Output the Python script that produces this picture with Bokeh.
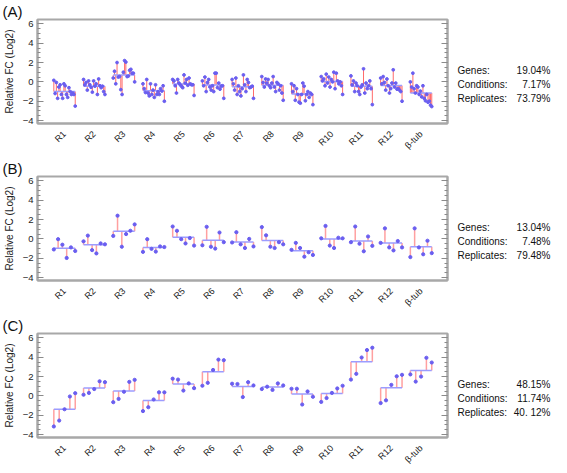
import math
from bokeh.plotting import figure
from bokeh.layouts import column, row
from bokeh.models import Range1d, FixedTicker, SingleIntervalTicker, LinearAxis
from bokeh.core.properties import value
from bokeh.embed import file_html
from bokeh.resources import INLINE

genes = ["R1", "R2", "R3", "R4", "R5", "R6", "R7", "R8", "R9", "R10", "R11", "R12", "β-tub"]

# Panel A: 18 points per gene
A_R1 = [0.16, -1.2, -0.06, -1.7, -0.53, -0.3, -1.3, -1.7, -0.2, -0.4, -1.3, -1.6, -0.6, -1.0, -1.3, -1.15, -1.3, -2.5]
A_R2 = [0.25, -0.3, -0.06, -0.85, 0.1, -0.3, -0.56, -1.06, 0.1, -0.44, -0.2, -1.3, 0.3, -0.4, -0.6, -0.44, -1.0, -1.3]
A_R3 = [0.4, 1.1, -0.2, 2.0, 0.5, 0.55, -0.8, -1.3, 1.0, 2.2, 2.05, 0.55, 0.6, 1.2, 1.3, 0.9, 0.9, 0.0]
A_R4 = [-0.2, -0.7, -1.1, 0.25, -1.15, -1.45, -0.2, -1.3, -0.85, -1.6, -0.3, -1.3, -1.0, -1.3, -0.7, -0.95, -0.4, -2.0]
A_R5 = [0.25, 0.1, -0.4, -1.15, 0.25, -0.12, -0.3, -0.45, -0.6, 0.72, -0.12, 0.25, -0.35, 0.4, -0.2, -0.3, -0.3, -1.4]
A_R6 = [0.1, -0.4, 0.5, -1.0, -0.06, 0.25, -0.53, -0.85, -0.4, -1.0, 0.9, 0.9, -0.6, -0.12, -0.75, -0.44, -0.4, -1.7]
A_R7 = [0.25, -0.2, -0.85, 0.4, -1.3, -0.4, -1.0, -1.45, -0.7, 0.72, -0.3, -1.0, 0.25, -0.06, -0.6, -0.53, -0.44, -1.7]
A_R8 = [0.55, -0.06, -0.53, 0.3, -0.12, 0.25, -0.4, -0.6, -0.12, 0.55, -0.53, -1.0, -0.06, -0.2, -0.85, -0.4, -1.15, -1.9]
A_R9 = [-0.2, -1.0, -0.4, -1.9, -0.7, -1.3, -2.1, -2.2, -1.3, -0.12, -0.44, -1.95, -1.3, -1.0, -1.6, -1.15, -1.3, -2.35]
A_R10 = [0.55, 0.1, 0.3, -0.4, 0.8, -0.12, 0.5, -0.53, 0.25, 0.0, 1.0, -0.7, 0.9, 0.1, -0.2, 0.0, -0.4, -1.3]
A_R11 = [0.62, -0.3, 0.1, -1.0, -0.12, -0.4, -1.0, -1.3, -0.53, -0.3, 1.35, -1.15, -0.12, -0.7, -0.4, 0.1, -0.7, -2.35]
A_R12 = [0.4, -0.2, 0.55, -0.06, -0.85, 0.3, -0.4, -1.15, -0.7, -0.12, 1.25, -0.53, -0.12, -0.75, -0.7, -0.85, -1.0, -2.0]
A_BTUB = [0.0, -0.53, 0.9, -0.7, -1.15, -0.4, -0.53, -1.3, -0.95, -1.55, -0.4, -1.7, -1.95, -1.3, -2.1, -2.0, -2.4, -2.55]

# Panel B: 6 points per gene
B_R1 = [-1.09, -0.03, -0.6, -1.97, -0.88, -1.25]
B_R2 = [-0.25, 0.34, -1.16, -1.5, -0.47, -0.56]
B_R3 = [0.31, 2.4, -0.81, 0.5, 0.84, 1.5]
B_R4 = [-1.34, -0.03, -1.03, -1.31, -0.78, -0.84]
B_R5 = [1.28, 0.84, -0.03, -0.47, 0.09, -0.69]
B_R6 = [-0.66, 1.25, -0.81, -1.0, 0.66, -0.34]
B_R7 = [-0.37, 0.69, -0.56, -0.94, 0.0, -0.78]
B_R8 = [1.22, 0.37, -0.81, -0.94, -0.34, -0.56]
B_R9 = [-1.13, -0.41, -0.94, -1.84, -1.38, -1.66]
B_R10 = [0.06, 1.34, -0.69, -0.94, 0.12, 0.06]
B_R11 = [-0.34, 1.28, -0.5, -1.28, 0.25, -0.72]
B_R12 = [-0.41, 1.09, -0.88, -1.19, -0.22, -0.88]
B_BTUB = [-1.88, 1.09, -0.88, -1.59, -0.19, -1.47]

# Panel C: 5 points per gene
C_R1 = [-3.16, -2.55, -1.38, -0.06, 0.28]
C_R2 = [0.12, 0.31, 0.71, 1.51, 1.42]
C_R3 = [-0.65, -0.31, 0.43, 1.45, 1.66]
C_R4 = [-1.57, -1.17, -0.37, 0.37, 0.37]
C_R5 = [1.78, 1.69, 0.55, 1.29, 0.8]
C_R6 = [1.05, 1.35, 2.68, 3.75, 3.69]
C_R7 = [1.26, 1.23, -0.12, 1.42, 1.08]
C_R8 = [0.71, 0.95, 0.62, 1.29, 1.08]
C_R9 = [0.74, 0.74, -0.89, 0.46, -0.09]
C_R10 = [-0.62, -0.22, 0.31, 0.77, 1.05]
C_R11 = [1.69, 2.28, 3.97, 4.74, 4.98]
C_R12 = [-0.74, -0.46, 1.14, 2.03, 2.18]
C_BTUB = [2.22, 1.48, 2.0, 3.94, 3.45]

stat_names = ["Genes:", "Conditions:", "Replicates:"]
A_stats = ["19.04%", "7.17%", "73.79%"]
B_stats = ["13.04%", "7.48%", "79.48%"]
C_stats = ["48.15%", "11.74%", "40. 12%"]

panel_A = [A_R1, A_R2, A_R3, A_R4, A_R5, A_R6, A_R7, A_R8, A_R9, A_R10, A_R11, A_R12, A_BTUB]
panel_B = [B_R1, B_R2, B_R3, B_R4, B_R5, B_R6, B_R7, B_R8, B_R9, B_R10, B_R11, B_R12, B_BTUB]
panel_C = [C_R1, C_R2, C_R3, C_R4, C_R5, C_R6, C_R7, C_R8, C_R9, C_R10, C_R11, C_R12, C_BTUB]

FONT = "Liberation Sans"
FIG_H = 152
TOP = 17
FRAME_W = 410
FRAME_H = 104
STATS_W = 101
HALF = 0.36
GRAY = "#a8a8a8"
TICK = "#8a8a8a"


def make_panel(letter, groups, stem_color, stem_width, pt_size):
    p = figure(frame_width=FRAME_W, frame_height=FRAME_H, output_backend="svg",
               toolbar_location=None, tools="",
               x_range=Range1d(-0.91, 12.89), y_range=Range1d(-4.3, 6.45),
               min_border_left=36, min_border_right=4, min_border_top=TOP,
               min_border_bottom=FIG_H - TOP - FRAME_H)
    p.xgrid.visible = False
    p.ygrid.visible = False
    p.outline_line_color = GRAY
    p.outline_line_width = 2
    p.border_fill_color = "white"

    p.title.text = letter
    p.title.text_font = FONT
    p.title.text_font_size = "15px"
    p.title.text_font_style = "normal"
    p.title.text_color = "#111111"
    p.title.align = "left"
    p.title.offset = -35
    p.title.standoff = 0

    xs, ys, mx0, mx1, my = [], [], [], [], []
    sx, sy0 = [], []
    for i, vals in enumerate(groups):
        n = len(vals)
        m = sum(vals) / n
        mx0.append(i - HALF)
        mx1.append(i + HALF)
        my.append(m)
        for j, v in enumerate(vals):
            x = i - HALF + 2 * HALF * j / (n - 1)
            xs.append(x)
            ys.append(v)
            sx.append(x)
            sy0.append(m)

    p.segment(x0=sx, y0=sy0, x1=sx, y1=ys, line_color=stem_color, line_width=stem_width)
    p.segment(x0=mx0, y0=my, x1=mx1, y1=my, line_color="#9c9cff", line_width=1.5)
    p.scatter(xs, ys, size=pt_size, marker="circle", fill_color="#6a5ef0", line_color="#6a5ef0")

    xa = p.xaxis[0]
    xa.ticker = FixedTicker(ticks=list(range(len(genes))))
    xa.major_label_overrides = {i: g for i, g in enumerate(genes)}
    xa.major_label_orientation = math.pi / 4
    xa.major_tick_line_color = None
    xa.minor_tick_line_color = None
    xa.axis_line_color = GRAY
    xa.axis_line_width = 2
    xa.major_label_text_font = FONT
    xa.major_label_text_font_size = "9px"
    xa.major_label_text_color = "#222222"
    xa.major_label_standoff = 3

    ya = p.yaxis[0]
    ya.ticker = SingleIntervalTicker(interval=2, num_minor_ticks=4)
    ya.major_tick_in = 6
    ya.major_tick_out = 0
    ya.minor_tick_in = 3
    ya.minor_tick_out = 0
    ya.major_tick_line_color = TICK
    ya.minor_tick_line_color = TICK
    ya.axis_line_color = GRAY
    ya.axis_line_width = 2
    ya.axis_label = "Relative FC (Log2)"
    ya.axis_label_text_font = FONT
    ya.axis_label_text_font_size = "10px"
    ya.axis_label_text_font_style = "normal"
    ya.axis_label_text_color = "#222222"
    ya.axis_label_standoff = 5
    ya.major_label_text_font = FONT
    ya.major_label_text_font_size = "9.5px"
    ya.major_label_text_color = "#222222"
    ya.major_label_standoff = 4

    ra = LinearAxis(ticker=SingleIntervalTicker(interval=2, num_minor_ticks=4))
    ra.major_tick_in = 6
    ra.major_tick_out = 0
    ra.minor_tick_in = 3
    ra.minor_tick_out = 0
    ra.major_tick_line_color = TICK
    ra.minor_tick_line_color = TICK
    ra.axis_line_color = GRAY
    ra.axis_line_width = 2
    ra.major_label_text_color = None
    ra.major_label_text_font_size = "1px"
    ra.major_label_standoff = 0
    p.add_layout(ra, "right")
    return p


def make_stats(stats):
    s = figure(frame_width=STATS_W, frame_height=FIG_H, output_backend="svg",
               toolbar_location=None, tools="", x_axis_location=None, y_axis_location=None,
               x_range=Range1d(0, STATS_W), y_range=Range1d(0, FIG_H), min_border=0)
    s.xgrid.visible = False
    s.ygrid.visible = False
    s.outline_line_color = None
    rows_y = [FIG_H - TOP - 34 - 14 * k for k in range(len(stat_names))]
    s.text(x=[6] * len(stat_names), y=rows_y, text=stat_names,
           text_font=value(FONT), text_font_size="10px", text_baseline="middle",
           text_align="left", text_color="#111111")
    s.text(x=[STATS_W - 2] * len(stats), y=rows_y, text=stats,
           text_font=value(FONT), text_font_size="10px", text_baseline="middle",
           text_align="right", text_color="#111111")
    return s


pA = make_panel("(A)", panel_A, "#ff6a6a", 1.0, 2.8)
pB = make_panel("(B)", panel_B, "#ffa0a0", 1.5, 3.2)
pC = make_panel("(C)", panel_C, "#ffa0a0", 1.5, 3.2)

layout = column(row(pA, make_stats(A_stats), spacing=0),
                row(pB, make_stats(B_stats), spacing=0),
                row(pC, make_stats(C_stats), spacing=0), spacing=0)
open("out.html", "w").write(file_html(layout, INLINE))
